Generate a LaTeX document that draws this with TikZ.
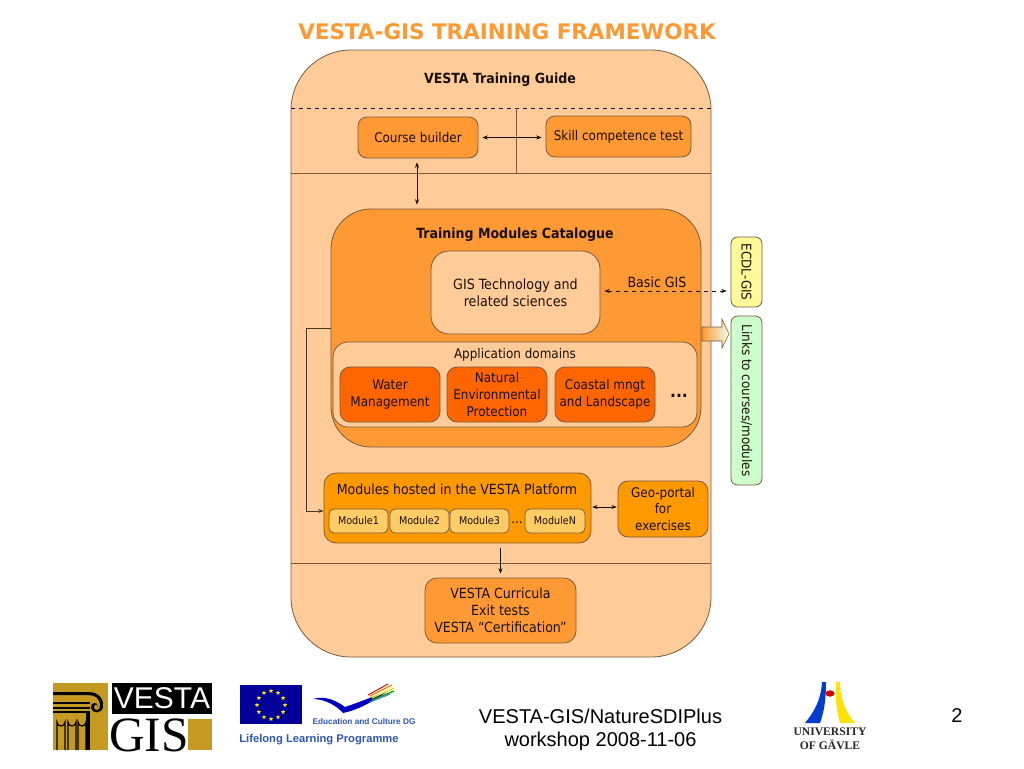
\documentclass[tikz,border=0pt]{standalone}
\usepackage{fontspec}
\setmainfont{DejaVu Sans Condensed}
\newfontfamily\wideb{DejaVu Sans}
\newfontfamily\arialf{Liberation Sans}
\newfontfamily\serf{Liberation Serif}
\usetikzlibrary{arrows.meta,shapes.geometric,calc}
\definecolor{cpale}{HTML}{FFCC99}
\definecolor{cmid}{HTML}{FF9933}
\definecolor{cdeep}{HTML}{FF6600}
\definecolor{camber}{HTML}{FF9900}
\definecolor{cmod}{HTML}{FFCC66}
\definecolor{cline}{HTML}{7A5A3A}
\definecolor{ctext}{HTML}{1A1008}
\definecolor{cgold}{HTML}{C49A22}
\definecolor{cblue}{HTML}{2F55B5}
\tikzset{
  x=0.75pt,y=-0.75pt,
  every node/.style={text=ctext,font=\fontsize{10}{12.6}\selectfont,align=center,inner sep=0pt},
  base/.style={draw=cline,line width=0.6pt},
  rule/.style={draw=cline,line width=0.6pt},
  dblarrow/.style={draw=ctext,line width=0.45pt,{Stealth[length=4pt,width=3pt]}-{Stealth[length=4pt,width=3pt]},shorten <=3pt,shorten >=3pt},
  onearrow/.style={draw=ctext,line width=0.45pt,-{Stealth[length=4pt,width=3pt]}},
  bigtext/.style={font=\fontsize{10.5}{12.6}\selectfont},
  boldtext/.style={font=\fontsize{10.5}{12}\bfseries\selectfont},
}
% name, x1, y1, x2, y2, radius(px), fill, text
\newcommand{\pbox}[8]{%
  \pgfmathsetmacro{\pbw}{(#4-#2)*0.75}%
  \pgfmathsetmacro{\pbh}{(#5-#3)*0.75}%
  \pgfmathsetmacro{\pbr}{#6*0.75}%
  \node[base,fill=#7,rounded corners=\pbr pt,minimum width=\pbw pt,minimum height=\pbh pt] (#1) at ({(#2+#4)/2},{(#3+#5)/2}) {#8};%
}
\begin{document}
\begin{tikzpicture}
\useasboundingbox[fill=white] (0,0) rectangle (1024,768);

\node[text=cmid,font=\wideb\fontsize{16.1}{18}\bfseries\selectfont] (title) at (507,32) {VESTA-GIS TRAINING FRAMEWORK};

% main frame
\pbox{guide}{291}{50}{711}{657}{60}{cpale}{}
\coordinate (dl) at (291,108); \coordinate (dr) at (711,108);
\coordinate (sl) at (291,173); \coordinate (sr) at (711,173);
\coordinate (el) at (291,563); \coordinate (er) at (711,563);
\coordinate (vt) at (516,108); \coordinate (vb) at (516,173);
\draw[rule,dashed,draw=ctext,line width=0.4pt] (dl) -- (dr);
\draw[rule] (sl) -- (sr);
\draw[rule] (el) -- (er);
\draw[rule] (vt) -- (vb);
\node[boldtext] (guidet) at (500,80) {VESTA Training Guide};

\pbox{cb}{358}{117}{478}{158}{9}{cmid}{Course builder}
\pbox{skill}{546}{116}{691}{157}{9}{cmid}{Skill competence test}

% catalogue
\pbox{cat}{331}{209}{701}{447}{40}{cmid}{}
\node[boldtext] (catt) at (515,235) {Training Modules Catalogue};
\pbox{tech}{431}{251}{600}{334}{18}{cpale}{\fontsize{10.6}{12.6}\selectfont GIS Technology and\\\fontsize{10.6}{12.6}\selectfont related sciences}
\pbox{app}{333}{342}{697}{427}{15}{cpale}{}
\node (appt) at (515,355) {Application domains};
\pbox{water}{340}{367}{440}{422}{10}{cdeep}{Water\\Management}
\pbox{nat}{447}{367}{547}{422}{10}{cdeep}{Natural\\Environmental\\Protection}
\pbox{coast}{555}{367}{655}{422}{10}{cdeep}{Coastal mngt\\and Landscape}
\node[font=\fontsize{13}{14}\bfseries\selectfont] (adots) at (679,396) {...};

% side boxes
\node[base,fill=yellow!40!white,rounded corners=5pt,minimum width=52.5pt,minimum height=23.25pt,rotate=-90] (ecdl) at (746.5,272) {ECDL-GIS};
\node[base,fill=green!20!white,rounded corners=5pt,minimum width=126.75pt,minimum height=23.25pt,rotate=-90] (links) at (746.5,400.5) {Links to courses/modules};

\coordinate (ba1) at (702,327); \coordinate (ba2) at (722,327); \coordinate (ba3) at (722,319);
\coordinate (ba4) at (729,334); \coordinate (ba5) at (722,348); \coordinate (ba6) at (722,341); \coordinate (ba7) at (702,341);
\draw[draw=cline,line width=0.4pt,left color=cmid,right color=green!8!white] (ba1) -- (ba2) -- (ba3) -- (ba4) -- (ba5) -- (ba6) -- (ba7) -- cycle;

% modules
\pbox{hosted}{324}{473}{591}{543}{12}{camber}{}
\node[bigtext] (hostedt) at (457,489) {Modules hosted in the VESTA Platform};
\begin{scope}[every node/.append style={font=\fontsize{8}{10}\selectfont}]
\pbox{m1}{329}{509}{388}{533}{5}{cmod}{Module1}
\pbox{m2}{390}{509}{449}{533}{5}{cmod}{Module2}
\pbox{m3}{450}{509}{509}{533}{5}{cmod}{Module3}
\pbox{mn}{525}{509}{585}{533}{5}{cmod}{ModuleN}
\end{scope}
\node (mdots) at (517,523) {...};
\pbox{geo}{618}{481}{708}{537}{10}{camber}{Geo-portal\\for\\exercises}
\pbox{curr}{425}{578}{576}{643}{12}{cmid}{\fontsize{10.5}{12.6}\selectfont VESTA Curricula\\\fontsize{10.5}{12.6}\selectfont Exit tests\\\fontsize{10.5}{12.6}\selectfont VESTA “Certification”}

% connectors
\draw[dblarrow] (cb.east) -- (skill.west |- cb.east);
\draw[dblarrow] (cb.south -| 417,0) -- (cat.north -| 417,0);
\draw[dblarrow,dashed,line width=0.4pt] ($(tech.east)+(0,-1.5)$) -- ($(ecdl.south |- tech.east)+(0,-1.5)$);
\node[bigtext] (basic) at (657,282) {Basic GIS};
\draw[onearrow,draw=cline!60!black] (cat.west |- 0,328) -- (306,328) -- (306,511) -- (hosted.west |- 0,511);
\draw[dblarrow,shorten <=0.6pt,shorten >=0.6pt] (hosted.east |- 0,507) -- (geo.west |- 0,507);
\draw[onearrow,shorten <=3.5pt,shorten >=3pt] (hosted.south -| 500.5,0) -- (curr.north -| 500.5,0);

% footer
\node[font=\arialf\fontsize{15}{17.2}\selectfont,text=black] (foot) at (600.5,729.5) {VESTA-GIS/NatureSDIPlus\\workshop 2008-11-06};
\node[font=\arialf\fontsize{15}{16}\selectfont,text=black] (pageno) at (957,716) {2};

% VESTA GIS logo
\fill[cgold] (53,683) rectangle (108,750);
\fill[black] (53,692) -- (88,692) .. controls (100,692) and (104,700) .. (103,707) .. controls (102,714) and (92,714) .. (91,708) .. controls (90,702) and (98,701) .. (98,707) .. controls (97,703) and (94,704) .. (94,708) .. controls (95,711) and (100,711) .. (100,706) .. controls (100,698) and (95,695) .. (88,695) -- (53,695) -- cycle;
\fill[black] (53,702) rectangle (90,704);
\fill[black] (53,707) rectangle (90,709);
\fill[black] (53,711) rectangle (90,713);
\fill[black] (86,713) rectangle (90,750);
\foreach \cx in {61,72,82}{
  \draw[black,line width=0.9pt] (\cx-4,750) -- (\cx-4,722) arc[start angle=180,end angle=0,radius=4] -- (\cx+4,750);
}
\fill[black] (112,683) rectangle (212,714);
\node[text=white,font=\arialf\fontsize{22.5}{22.5}\selectfont] (lv) at (162,698.5) {VESTA};
\fill[cgold] (188,719) rectangle (212,750);
\node[text=black,font=\serf\fontsize{37}{37}\selectfont] (lg) at (149,735) {GIS};

% EU flag
\fill[blue!60!black] (240,685) rectangle (302,724);
\foreach \a in {0,30,...,330}{
  \node[star,star points=5,star point ratio=2.4,fill=yellow!90!orange,minimum size=3.6pt] at ({271+14*cos(\a)},{705+14*sin(\a)}) {};
}
% bird
\fill[blue!75!black] (313,699) .. controls (325,695) and (337,701) .. (345,707) .. controls (357,703) and (372,697) .. (388,691) .. controls (372,702) and (358,710) .. (343,713) .. controls (337,706) and (325,699) .. (313,699) -- cycle;
\draw[orange,line width=0.9pt] (370,696) -- (392,685);
\draw[yellow!80!orange,line width=0.9pt] (372,698) -- (394,688);
\draw[green!60!black,line width=0.9pt] (372,700) -- (394,691);
\draw[red!80!black,line width=0.7pt] (368,695) -- (388,684);
\draw[cyan!70!black,line width=0.9pt] (370,702) -- (390,694);
\node[text=cblue,font=\arialf\fontsize{6.2}{8}\bfseries\selectfont] (edu) at (364,722) {Education and Culture DG};
\node[text=cblue,font=\arialf\fontsize{8.4}{10}\bfseries\selectfont] (lll) at (319,740) {Lifelong Learning Programme};

% University logo
\fill[blue!70!cyan!80!black] (822,682) -- (826,682) .. controls (826,700) and (824,712) .. (820,723) -- (805,723) .. controls (814,712) and (821,700) .. (822,682) -- cycle;
\fill[yellow!85!orange] (836,682) -- (840,682) .. controls (840,700) and (846,712) .. (855,723) -- (840,723) .. controls (837,712) and (835,700) .. (836,682) -- cycle;
\fill[red!85!black] (830,693.5) ellipse[x radius=4.5,y radius=3.2];
\node[text=black!85,font=\serf\fontsize{8.7}{10.4}\bfseries\selectfont] (ug) at (830,739) {UNIVERSITY\\OF GÄVLE};
\end{tikzpicture}
\end{document}
